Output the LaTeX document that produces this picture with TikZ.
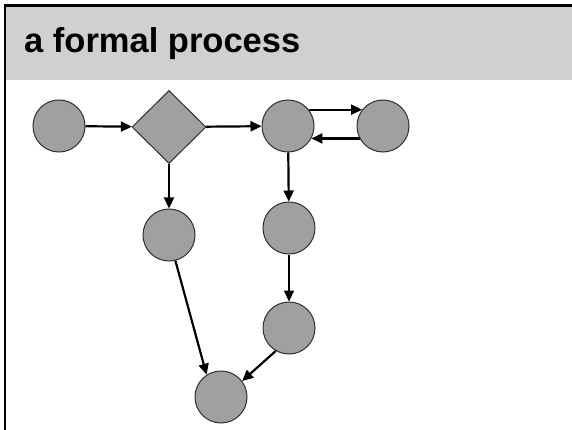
\documentclass[tikz,border=0pt]{standalone}
\usepackage{fontspec}
\setmainfont{Liberation Sans}
\usetikzlibrary{shapes.geometric,arrows.meta}
\definecolor{headgray}{HTML}{D0D0D0}
\definecolor{nodegray}{HTML}{A0A0A0}
\definecolor{edgegray}{HTML}{303030}
\tikzset{
  statenode/.style={circle,draw=edgegray,fill=nodegray,line width=1pt,minimum size=52pt,inner sep=0pt},
  choicenode/.style={diamond,draw=edgegray,fill=nodegray,line width=1pt,minimum width=74pt,minimum height=73pt,inner sep=0pt},
  flow/.style={draw=black,line width=2.2pt,-{Triangle[length=11pt,width=10pt]}},
  titletext/.style={anchor=base west,font=\fontsize{34.5}{38}\selectfont\bfseries,inner sep=0pt}
}
\begin{document}
\begin{tikzpicture}[x=1pt,y=-1pt]
\useasboundingbox (0,0) rectangle (572,430);
\fill[white] (0,0) rectangle (572,430);
\fill[headgray] (5,5) rectangle (572,80);
\draw[black,line width=2.6pt] (5,430) -- (5,5.5) -- (572,5.5);
\node[titletext] (title) at (24,53) {a formal process};
\node[statenode] (n1) at (59,126) {};
\node[choicenode] (d) at (169,127) {};
\node[statenode] (n3) at (288,126) {};
\node[statenode] (n4) at (383,126) {};
\node[statenode] (n5) at (169,235) {};
\node[statenode] (n6) at (289,228) {};
\node[statenode] (n7) at (289,328) {};
\node[statenode] (n8) at (221,397) {};
\draw[flow] (n1) -- (d);
\draw[flow] (d) -- (n3);
\draw[flow] (n3.38) -- (n4.142);
\draw[flow] (n4.-152) -- (n3.-28);
\draw[flow] (d) -- (n5);
\draw[flow] (n3) -- (n6);
\draw[flow] (n6) -- (n7);
\draw[flow] (n5.-76) -- (n8.123);
\draw[flow] (n7.-120) -- (n8.37);
\end{tikzpicture}
\end{document}
